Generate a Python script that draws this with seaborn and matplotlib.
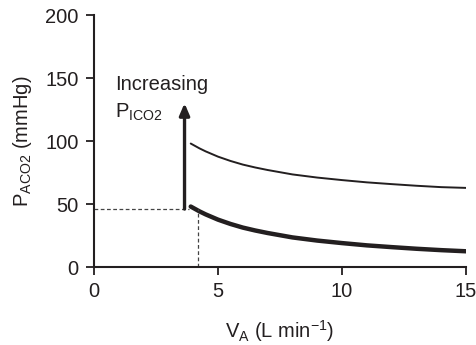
import pandas as pd
import matplotlib.pyplot as plt
import seaborn as sns

# values
va = [3.9, 4.25, 4.5, 5, 5.5, 6, 6.5, 7, 8, 9, 10, 11, 12, 13, 14, 15]
paco2_low = [48, 44.2, 41.8, 37.6, 34.2, 31.3, 29, 27, 23.5, 21, 19, 17.2, 15.8, 14.5, 13.4, 12.5]
paco2_high = [98, 94.2, 91.8, 87.6, 84.2, 81.3, 79, 77, 73.5, 71, 69, 67.2, 65.8, 64.5, 63.4, 62.8]
work_va = 4.2
work_paco2 = 46
arrow_x = 3.65
arrow_top = 130

sns.set_style('ticks')
plt.rcParams['font.family'] = ['Liberation Sans', 'DejaVu Sans']
plt.rcParams['mathtext.fontset'] = 'custom'
plt.rcParams['mathtext.rm'] = 'Liberation Sans'
ink = '#231f20'
fs = 14.5

df = pd.DataFrame({'va': va, 'low': paco2_low, 'high': paco2_high})

fig = plt.figure(figsize=(4.76, 3.45), dpi=100)
ax = fig.add_axes([0.1975, 0.226, 0.7815, 0.7305])

sns.lineplot(data=df, x='va', y='low', ax=ax, color=ink, lw=3.2)
sns.lineplot(data=df, x='va', y='high', ax=ax, color=ink, lw=1.4)

# working point dashed guides
ax.plot([0, arrow_x + 0.2], [work_paco2, work_paco2], ls=(0, (3, 2)), color='#444444', lw=0.9)
ax.plot([work_va, work_va], [0, work_paco2], ls=(0, (3, 2)), color='#444444', lw=0.9)

ax.annotate('', xy=(arrow_x, arrow_top), xytext=(arrow_x, work_paco2),
            arrowprops=dict(arrowstyle='-|>,head_length=0.7,head_width=0.3', color=ink, lw=2.4,
                            shrinkA=0, shrinkB=0))
ax.text(0.85, 145, 'Increasing', fontsize=fs, color=ink, va='center', ha='left')
ax.text(0.85, 123, r'P$_{\mathregular{ICO2}}$', fontsize=fs, color=ink, va='center', ha='left')

ax.set_xlim(0, 15)
ax.set_ylim(0, 200)
ax.set_xticks([0, 5, 10, 15])
ax.set_yticks([0, 50, 100, 150, 200])
ax.tick_params(labelsize=fs, colors=ink, width=1.3, length=6, pad=5)
ax.set_xlabel('V$_{\\mathregular{A}}$ (L min$^{\\mathregular{\u22121}}$)', fontsize=fs, color=ink, labelpad=12)
ax.set_ylabel(r'P$_{\mathregular{ACO2}}$ (mmHg)', fontsize=fs, color=ink, labelpad=8)
sns.despine(ax=ax)
for s in ['left', 'bottom']:
    ax.spines[s].set_linewidth(1.5)
    ax.spines[s].set_color(ink)

fig.savefig('out.png', dpi=100)
